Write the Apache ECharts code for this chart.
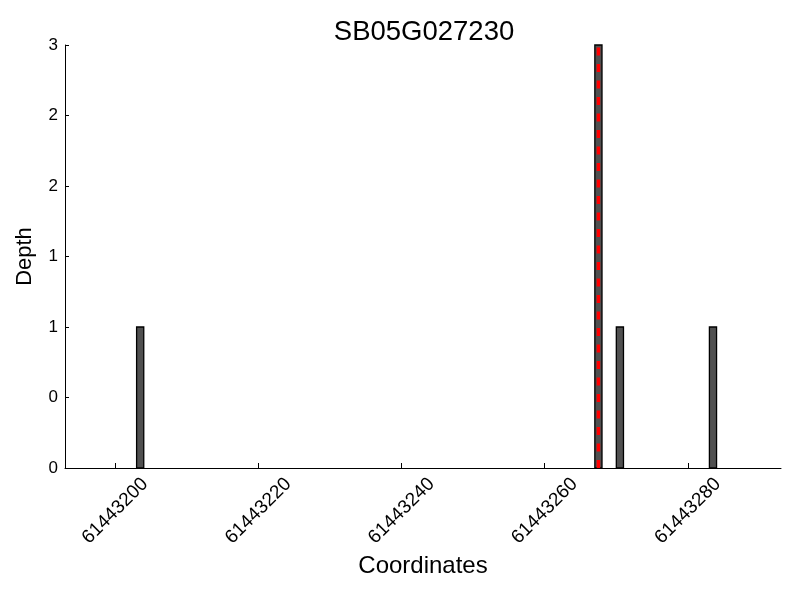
<!DOCTYPE html>
<html>
<head>
<meta charset="utf-8">
<script src="https://cdn.jsdelivr.net/npm/echarts@6/dist/echarts.min.js"></script>
<style>html,body{margin:0;padding:0;background:#fff}#c{width:800px;height:600px}</style>
</head>
<body>
<div id="c"></div>
<script>
var title = 'SB05G027230';
var positions = [61443203, 61443267, 61443270, 61443283];
var depths = [1, 3, 1, 1];
var markerPos = 61443267.5;
var xTicks = [61443200, 61443220, 61443240, 61443260, 61443280];
var yTicks = [0, 0.5, 1, 1.5, 2, 2.5, 3];
var xMin = 61443193, xMax = 61443293;

var barData = positions.map(function (p, i) { return [p, depths[i]]; });
var font = 'Liberation Sans, Arial, Helvetica, sans-serif';

var chart = echarts.init(document.getElementById('c'), null, {renderer: 'canvas'});
chart.setOption({
  animation: false,
  backgroundColor: '#fff',
  title: {
    text: title, left: 419, top: 13, textAlign: 'center',
    textStyle: {fontFamily: font, fontSize: 27.5, fontWeight: 'normal', color: '#000'}
  },
  grid: {left: 65, right: 19, top: 45, bottom: 132},
  xAxis: {
    type: 'value', min: xMin, max: xMax,
    name: 'Coordinates', nameLocation: 'middle', nameGap: 86,
    nameTextStyle: {fontFamily: font, fontSize: 24, color: '#000'},
    axisLine: {onZero: false, lineStyle: {color: '#000', width: 1}},
    axisTick: {show: true, inside: true, length: 5, customValues: xTicks, lineStyle: {color: '#000'}},
    axisLabel: {
      customValues: xTicks, rotate: 45, align: 'center', verticalAlign: 'middle', margin: 43,
      fontFamily: font, fontSize: 19, color: '#000',
      formatter: function (v) { return String(Math.round(v)); }
    },
    splitLine: {show: false}
  },
  yAxis: {
    type: 'value', min: 0, max: 3, interval: 0.5,
    name: 'Depth', nameLocation: 'middle', nameGap: 29,
    nameTextStyle: {fontFamily: font, fontSize: 22, color: '#000'},
    axisLine: {show: true, lineStyle: {color: '#000', width: 1}},
    axisTick: {show: true, inside: true, length: 4, lineStyle: {color: '#000'}},
    axisLabel: {
      margin: 7, fontFamily: font, fontSize: 17, color: '#000',
      formatter: function (v) { return String(Math.floor(v)); }
    },
    splitLine: {show: false}
  },
  series: [
    {
      type: 'custom',
      data: barData,
      renderItem: function (params, api) {
        var x = api.value(0), v = api.value(1);
        var p1 = api.coord([x, v]);
        var p2 = api.coord([x + 1, 0]);
        return {
          type: 'rect',
          shape: {x: p1[0], y: p1[1], width: p2[0] - p1[0], height: p2[1] - p1[1]},
          style: {fill: '#505050', stroke: '#000', lineWidth: 1.3}
        };
      },
      z: 2
    },
    {
      type: 'line',
      data: [[markerPos, 0], [markerPos, Math.max.apply(null, depths)]],
      symbol: 'none',
      lineStyle: {color: '#ff0000', width: 3.5, type: [8, 8.5]},
      z: 3
    }
  ]
});
</script>
</body>
</html>
